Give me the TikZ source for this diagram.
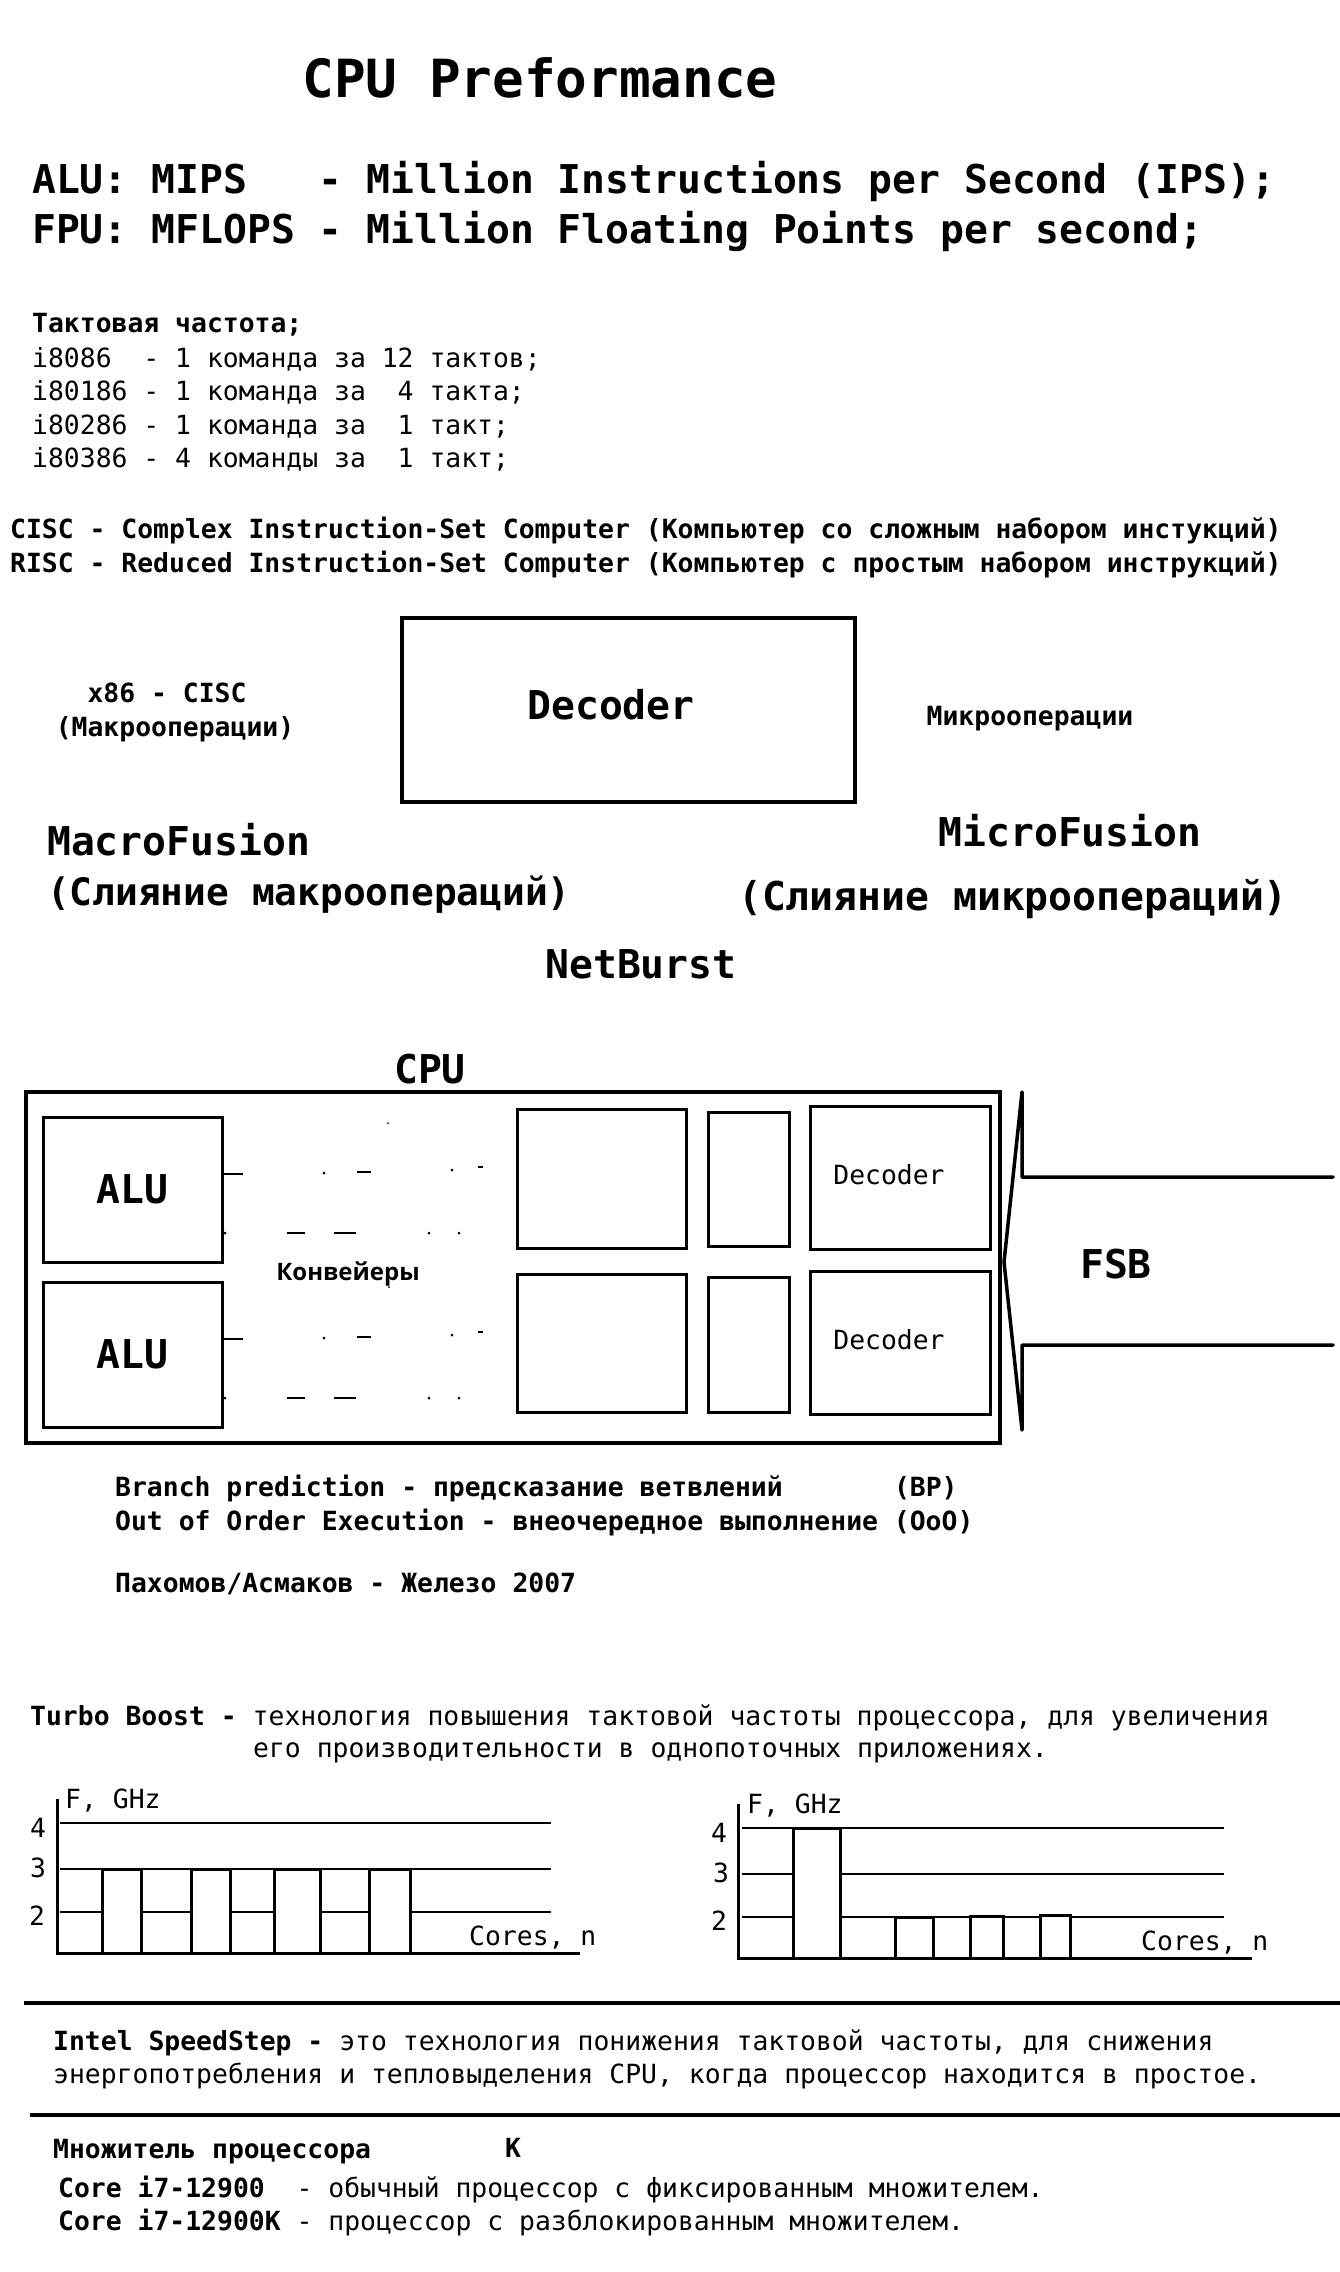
\documentclass[tikz,border=0pt]{standalone}
\usepackage{fontspec}
\setmainfont{DejaVu Sans Mono}
\newfontfamily\uifont{Open Sans}
\newcommand\smf{\fontsize{26.4}{30}\selectfont}
\newcommand\bgf{\fontsize{39.7}{44}\selectfont}
\newcommand\ttlf{\fontsize{52.6}{58}\selectfont}

\begin{document}
\frenchspacing
\begin{tikzpicture}[x=1pt, y=-1pt,
  txt/.style={anchor=base west, inner sep=0pt, font=\smf},
  btxt/.style={anchor=base west, inner sep=0pt, font=\smf\bfseries},
  head/.style={anchor=base west, inner sep=0pt, font=\bgf\bfseries},
  box/.style={draw, line width=3pt, inner sep=0pt},
  pipe/.style={line width=2.6pt},
  gridline/.style={line width=1.1pt},
  axisline/.style={line width=3pt, line cap=rect},
  barbox/.style={draw, fill=white, line width=3pt},
  hrule/.style={line width=3.3pt}]

\useasboundingbox (0,0) rectangle (1340,2272);

% header
\node[anchor=base, inner sep=0pt, font=\ttlf\bfseries] (title) at (540,98) {CPU Preformance};
\node[head] (mips) at (32,193) {ALU: MIPS~~~- Million Instructions per Second (IPS);};
\node[head] (mflops) at (32,243) {FPU: MFLOPS - Million Floating Points per second;};

% clock
\node[btxt] (clk) at (32,332) {Тактовая частота;};
\node[txt] (i1) at (32,367) {i8086~~- 1 команда за 12 тактов;};
\node[txt] (i2) at (32,400.5) {i80186 - 1 команда за~~4 такта;};
\node[txt] (i3) at (32,434) {i80286 - 1 команда за~~1 такт;};
\node[txt] (i4) at (32,467.5) {i80386 - 4 команды за~~1 такт;};

\node[btxt] (cisc) at (10,538) {CISC - Complex Instruction-Set Computer (Компьютер со сложным набором инстукций)};
\node[btxt] (risc) at (10,572) {RISC - Reduced Instruction-Set Computer (Компьютер с простым набором инструкций)};

% decoder
\node[box, line width=4.5pt, minimum width=453pt, minimum height=184pt] (dec) at (628.5,710) {};
\node[anchor=base, inner sep=0pt, font=\bgf\bfseries] (dectxt) at (611,719) {Decoder};
\node[btxt, anchor=base] (x86) at (167,702) {x86 - CISC};
\node[btxt, anchor=base] (macro) at (175,736) {(Макрооперации)};
\node[btxt, anchor=base] (micro) at (1030,725) {Микрооперации};
\node[head] (mfus) at (47,855) {MacroFusion};
\node[head, font=\fontsize{37.8}{42}\selectfont\bfseries] (mfusru) at (47,905) {(Слияние макроопераций)};
\node[head, anchor=base] (ufus) at (1070,846) {MicroFusion};
\node[head, anchor=base] (ufusru) at (1013,910) {(Слияние микроопераций)};
\node[head, anchor=base] (nb) at (641,978) {NetBurst};

% cpu
\node[head, anchor=base] (cpulbl) at (430,1083) {CPU};
\node[box, line width=4pt, minimum width=974pt, minimum height=351pt] (cpu) at (513,1267.5) {};
\node[box, font=\bgf\bfseries, minimum width=179pt, minimum height=145pt] (alu1) at (132.5,1189.5) {ALU};
\node[box, font=\bgf\bfseries, minimum width=179pt, minimum height=145pt] (alu2) at (132.5,1354.5) {ALU};
\node[box, minimum width=169pt, minimum height=139pt] (reg1) at (601.5,1178.5) {};
\node[box, minimum width=81pt, minimum height=134pt] (buf1) at (748.5,1179) {};
\node[box, minimum width=180pt, minimum height=143pt] (dec1) at (900,1177.5) {};
\node[box, minimum width=169pt, minimum height=138pt] (reg2) at (601.5,1343) {};
\node[box, minimum width=81pt, minimum height=135pt] (buf2) at (748.5,1344.5) {};
\node[box, minimum width=180pt, minimum height=143pt] (dec2) at (900,1342.5) {};
\node[anchor=base, inner sep=0pt, font=\smf] (dec1txt) at (889,1184) {Decoder};
\node[anchor=base, inner sep=0pt, font=\smf] (dec2txt) at (889,1349) {Decoder};
\node[anchor=base, inner sep=0pt, font=\uifont\fontsize{24}{28}\selectfont\bfseries] (conv) at (348,1280) {Конвейеры};

% pipelines
\foreach \d in {0,165} {
  \draw[pipe] (222,1174+\d) -- (243,1174+\d);
  \draw[pipe] (357,1172+\d) -- (371,1172+\d);
  \draw[pipe] (478,1167+\d) -- (483,1167+\d);
  \draw[pipe] (287,1233+\d) -- (305,1233+\d);
  \draw[pipe] (334,1233+\d) -- (356,1233+\d);
  \foreach \x/\y in {324/1173,452/1170,225/1233,429/1233,459/1233}
    \fill (\x,\y+\d) circle (1.5pt);
}
\fill (388,1123) circle (1pt);
\fill (389,1287) circle (1pt);

% fsb
\draw[line width=3.5pt, line cap=round, line join=round]
  (1333,1177) -- (1022,1177) -- (1022,1092) -- (1004,1262)
  -- (1022,1430) -- (1022,1345) -- (1333,1345);
\node[head, anchor=base] (fsb) at (1116,1278) {FSB};

% notes
\node[btxt] (bp) at (115,1496) {Branch prediction - предсказание ветвлений~~~~~~~(BP)};
\node[btxt] (ooo) at (115,1530) {Out of Order Execution - внеочередное выполнение (OoO)};
\node[btxt] (book) at (115,1592) {Пахомов/Асмаков - Железо 2007};

% turbo boost
\node[txt] (tb1) at (30,1725) {\textbf{Turbo Boost -} технология повышения тактовой частоты процессора, для увеличения};
\node[txt] (tb2) at (253,1757) {его производительности в однопоточных приложениях.};

% chart 1
\foreach \y in {1823,1869,1912}
  \draw[gridline] (60,\y) -- (551,\y);
\foreach \xa/\xb in {102/141,191/230,274/320,369/410}
  \draw[barbox] (\xa,1953) rectangle (\xb,1869);
\draw[axisline] (57,1800) -- (57,1953) -- (578,1953);
\node[txt] (f1) at (65,1808) {F, GHz};
\node[txt, anchor=base] (a4) at (38,1837) {4};
\node[txt, anchor=base] (a3) at (38,1877) {3};
\node[txt, anchor=base] (a2) at (37,1925) {2};
\node[txt] (n1) at (469,1945) {Cores, n};

% chart 2
\foreach \y in {1828,1874,1917}
  \draw[gridline] (742,\y) -- (1224,\y);
\foreach \xa/\xb/\yt in {793/840/1828,895/933/1917,970/1003/1916,1040/1070/1915}
  \draw[barbox] (\xa,1958) rectangle (\xb,\yt);
\draw[axisline] (738,1805) -- (738,1958) -- (1250,1958);
\node[txt] (f2) at (747,1813) {F, GHz};
\node[txt, anchor=base] (b4) at (719,1842) {4};
\node[txt, anchor=base] (b3) at (721,1882) {3};
\node[txt, anchor=base] (b2) at (719,1930) {2};
\node[txt] (n2) at (1141,1950) {Cores, n};

% speedstep
\draw[hrule] (24,2003) -- (1340,2003);
\node[txt] (ss1) at (53,2050) {\textbf{Intel SpeedStep -} это технология понижения тактовой частоты, для снижения};
\node[txt] (ss2) at (53,2083) {энергопотребления и тепловыделения CPU, когда процессор находится в простое.};
\draw[hrule] (30,2115) -- (1340,2115);

% multiplier
\node[btxt] (mult) at (53,2158) {Множитель процессора};
\node[btxt, anchor=base] (k) at (513,2157) {K};
\node[txt] (c1) at (58,2197) {\textbf{Core i7-12900}~~- обычный процессор с фиксированным множителем.};
\node[txt] (c2) at (58,2230) {\textbf{Core i7-12900K} - процессор с разблокированным множителем.};

\end{tikzpicture}
\end{document}
